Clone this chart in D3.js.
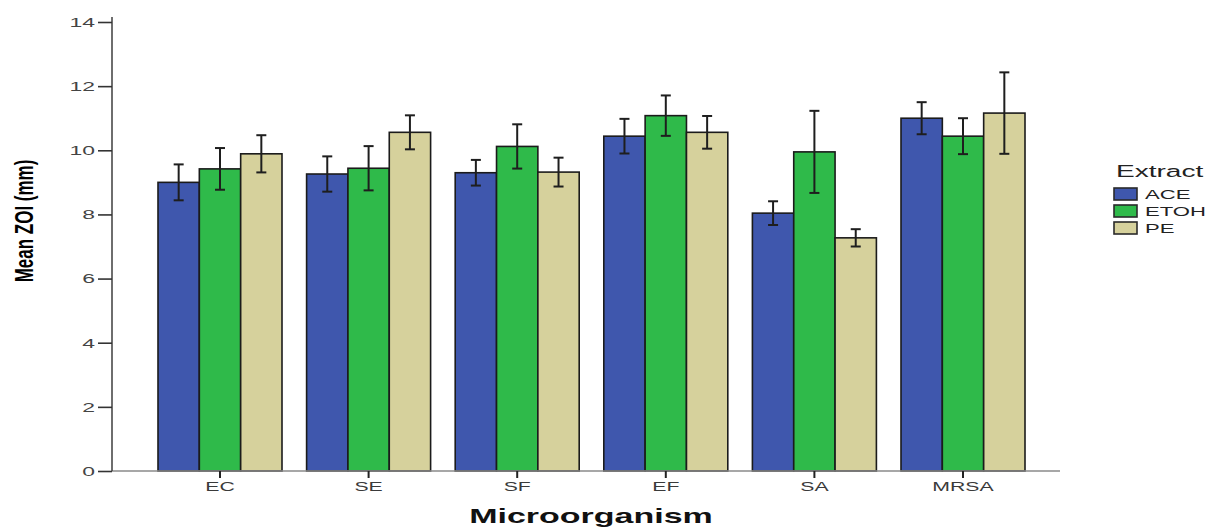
<!DOCTYPE html>
<html>
<head>
<meta charset="utf-8">
<script src="https://cdn.jsdelivr.net/npm/d3@7"></script>
<style>
  body { margin: 0; background: #fff; }
  svg { display: block; font-family: "Liberation Sans", Arial, sans-serif; }
</style>
</head>
<body>
<svg id="chart" width="1212" height="527"></svg>
<script>
const organisms = ['EC', 'SE', 'SF', 'EF', 'SA', 'MRSA'];
const extracts = ['ACE', 'ETOH', 'PE'];
// mean zone of inhibition (mm) per extract, same order as organisms
const aceMean = [9.0, 9.26, 9.3, 10.44, 8.04, 11.0];
const etohMean = [9.42, 9.44, 10.12, 11.08, 9.95, 10.44];
const peMean = [9.89, 10.56, 9.32, 10.56, 7.27, 11.16];
// error bar half-widths
const aceErr = [0.56, 0.55, 0.4, 0.54, 0.37, 0.5];
const etohErr = [0.65, 0.69, 0.69, 0.63, 1.28, 0.56];
const peErr = [0.58, 0.53, 0.45, 0.51, 0.27, 1.27];
const yTicks = [0, 2, 4, 6, 8, 10, 12, 14];

const colors = { ACE: '#3f57ad', ETOH: '#2fba4a', PE: '#d6d19c' };
const stretch = 1.7; // the original picture is stretched sideways

const rows = organisms.map((o, i) => ({
  org: o,
  vals: [
    { key: 'ACE', mean: aceMean[i], err: aceErr[i] },
    { key: 'ETOH', mean: etohMean[i], err: etohErr[i] },
    { key: 'PE', mean: peMean[i], err: peErr[i] }
  ]
}));

const svg = d3.select('#chart');
const axisLeftX = 112, axisRightX = 1060, axisTopY = 17, baseY = 471;

const y = d3.scaleLinear().domain([0, 14]).range([baseY, 22]);
const x = d3.scaleBand().domain(organisms).range([145.7, 1037.3]);
const x1 = d3.scaleBand().domain(extracts).range([12.3, x.bandwidth() - 12.3]);

// bars
const groups = svg.selectAll('.grp')
  .data(rows)
  .enter().append('g')
  .attr('class', 'grp')
  .attr('transform', d => `translate(${x(d.org)},0)`);

groups.selectAll('rect')
  .data(d => d.vals)
  .enter().append('rect')
  .attr('x', d => x1(d.key))
  .attr('y', d => y(d.mean))
  .attr('width', x1.bandwidth())
  .attr('height', d => baseY - y(d.mean))
  .attr('fill', d => colors[d.key])
  .attr('stroke', '#1b1b1b')
  .attr('stroke-width', 1.6);

// error bars
const eb = groups.selectAll('.eb')
  .data(d => d.vals)
  .enter().append('g')
  .attr('class', 'eb')
  .attr('stroke', '#1e1e1e')
  .attr('stroke-width', 2);
eb.append('line')
  .attr('x1', d => x1(d.key) + x1.bandwidth() / 2)
  .attr('x2', d => x1(d.key) + x1.bandwidth() / 2)
  .attr('y1', d => y(d.mean + d.err))
  .attr('y2', d => y(d.mean - d.err));
[1, -1].forEach(s => {
  eb.append('line')
    .attr('x1', d => x1(d.key) + x1.bandwidth() / 2 - 5)
    .attr('x2', d => x1(d.key) + x1.bandwidth() / 2 + 5)
    .attr('y1', d => y(d.mean + s * d.err))
    .attr('y2', d => y(d.mean + s * d.err));
});

// x axis
svg.append('line')
  .attr('x1', axisLeftX).attr('x2', axisRightX)
  .attr('y1', baseY).attr('y2', baseY)
  .attr('stroke', '#8a8a8a').attr('stroke-width', 1.5);

const xAxis = svg.append('g')
  .attr('transform', `translate(0,${baseY})`)
  .call(d3.axisBottom(x).tickSize(7).tickPadding(4));
xAxis.select('.domain').remove();
xAxis.selectAll('.tick line').attr('stroke', '#222').attr('stroke-width', 2);
xAxis.selectAll('.tick text')
  .attr('font-size', 12.5)
  .attr('fill', '#3a3a3a')
  .attr('transform', `scale(${stretch},1)`);

// y axis
const yAxis = svg.append('g')
  .attr('transform', `translate(${axisLeftX},0)`)
  .call(d3.axisLeft(y).tickValues(yTicks).tickSize(14).tickPadding(3));
yAxis.select('.domain')
  .attr('d', `M0,${axisTopY}V${baseY}`)
  .attr('stroke', '#4a4a4a').attr('stroke-width', 1.6);
yAxis.selectAll('.tick line').attr('stroke', '#333').attr('stroke-width', 1.6);
yAxis.selectAll('.tick text')
  .attr('font-size', 13.5)
  .attr('fill', '#444')
  .attr('x', -17 / stretch)
  .attr('transform', `scale(${stretch},1)`);

// axis titles
svg.append('text')
  .attr('transform', `translate(24,221) scale(1.5,1) rotate(-90)`)
  .attr('text-anchor', 'middle')
  .attr('dy', '0.35em')
  .attr('font-size', 17)
  .attr('font-weight', 'bold')
  .text('Mean ZOI (mm)');

svg.append('text')
  .attr('transform', `translate(591,523) scale(${stretch},1)`)
  .attr('text-anchor', 'middle')
  .attr('font-size', 20)
  .attr('font-weight', 'bold')
  .attr('fill', '#111')
  .text('Microorganism');

// legend
const legend = svg.append('g').attr('transform', 'translate(1114,0)');
legend.append('text')
  .attr('transform', `translate(2,177) scale(${stretch},1)`)
  .attr('font-size', 16.5)
  .attr('fill', '#222')
  .text('Extract');

const item = legend.selectAll('.item')
  .data(extracts)
  .enter().append('g')
  .attr('class', 'item')
  .attr('transform', (d, i) => `translate(0,${188 + i * 17})`);
item.append('rect')
  .attr('width', 23).attr('height', 12)
  .attr('fill', d => colors[d])
  .attr('stroke', '#2a2a2a').attr('stroke-width', 1.6);
item.append('text')
  .attr('transform', `translate(31,11) scale(${stretch},1)`)
  .attr('font-size', 13)
  .attr('fill', '#222')
  .text(d => d);
</script>
</body>
</html>
